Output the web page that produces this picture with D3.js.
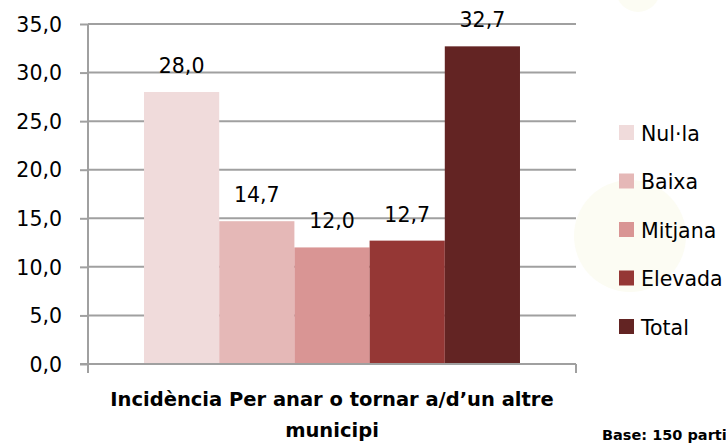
<!DOCTYPE html>
<html lang="ca">
<head>
<meta charset="UTF-8">
<title>Incidència</title>
<script src="https://d3js.org/d3.v7.min.js"></script>
<style>
    body { margin: 0; background: #fff; }
    svg { display: block; }
    .tick-label, .value-label { font-family: "DejaVu Sans", sans-serif; font-size: 20.5px; fill: #000; }
    .legend-label { font-family: "DejaVu Sans", sans-serif; font-size: 20.5px; fill: #000; }
    .axis-title { font-family: "DejaVu Sans", sans-serif; font-weight: bold; font-size: 19.5px; fill: #000; }
    .base-note { font-family: "DejaVu Sans", sans-serif; font-weight: bold; font-size: 14.5px; fill: #000; }
</style>
</head>
<body>
<svg id="chart"></svg>
<script>
// data
const categories = ["Incidència Per anar o tornar a/d’un altre municipi"];
const seriesNames = ["Nul·la", "Baixa", "Mitjana", "Elevada", "Total"];
const seriesValues = [28.0, 14.7, 12.0, 12.7, 32.7];
const seriesColors = ["#F0DBDB", "#E5B8B7", "#D99594", "#953735", "#632423"];
const yTicks = [0, 5, 10, 15, 20, 25, 30, 35];
const titleLines = ["Incidència Per anar o tornar a/d’un altre", "municipi"];
const baseNote = "Base: 150 parti";

const W = 726, H = 443;
const plot = { left: 88, right: 576, top: 24, bottom: 364 };
const fmt = v => v.toFixed(1).replace(".", ",");

const svg = d3.select("#chart").attr("width", W).attr("height", H);

// faint background decoration
svg.append("circle").attr("cx", 630).attr("cy", 236).attr("r", 56).attr("fill", "#FCFCF3");
svg.append("circle").attr("cx", 638).attr("cy", -10).attr("r", 22).attr("fill", "#FCFCF3");

const x0 = d3.scaleBand().domain(categories).range([plot.left, plot.right]).paddingOuter(0.149).paddingInner(0);
const x1 = d3.scaleBand().domain(seriesNames).range([0, x0.bandwidth()]).padding(0);
const y = d3.scaleLinear().domain([0, 35]).range([plot.bottom, plot.top]);

// gridlines + left axis
const yAxis = svg.append("g")
    .attr("transform", `translate(${plot.left},0)`)
    .call(d3.axisLeft(y).tickValues(yTicks).tickSize(8).tickFormat(fmt));
yAxis.select(".domain").remove();
yAxis.selectAll(".tick line").attr("stroke", "#A0A0A0").attr("stroke-width", 2);
yAxis.selectAll(".tick text").attr("class", "tick-label").attr("x", -26).attr("dy", "0.35em");

svg.append("g").selectAll("line")
    .data(yTicks.filter(d => d > 0))
    .join("line")
    .attr("x1", plot.left).attr("x2", plot.right)
    .attr("y1", d => y(d)).attr("y2", d => y(d))
    .attr("stroke", "#A0A0A0").attr("stroke-width", 2);

// bars
const g = svg.append("g").attr("transform", `translate(${x0(categories[0])},0)`);
g.selectAll("rect")
    .data(seriesNames.map((n, i) => ({ name: n, value: seriesValues[i], color: seriesColors[i] })))
    .join("rect")
    .attr("x", d => x1(d.name))
    .attr("y", d => y(d.value))
    .attr("width", x1.bandwidth())
    .attr("height", d => y(0) - y(d.value))
    .attr("fill", d => d.color);

g.selectAll("text")
    .data(seriesNames.map((n, i) => ({ name: n, value: seriesValues[i] })))
    .join("text")
    .attr("class", "value-label")
    .attr("x", d => x1(d.name) + x1.bandwidth() / 2)
    .attr("y", d => y(d.value) - 19)
    .attr("text-anchor", "middle")
    .text(d => fmt(d.value));

// axis lines
const axisColor = "#A0A0A0";
svg.append("line").attr("x1", plot.left).attr("x2", plot.left)
    .attr("y1", plot.top).attr("y2", plot.bottom + 9)
    .attr("stroke", axisColor).attr("stroke-width", 2);
svg.append("line").attr("x1", plot.left - 8).attr("x2", plot.right)
    .attr("y1", plot.bottom).attr("y2", plot.bottom)
    .attr("stroke", axisColor).attr("stroke-width", 2);
svg.append("line").attr("x1", plot.right).attr("x2", plot.right)
    .attr("y1", plot.bottom).attr("y2", plot.bottom + 9)
    .attr("stroke", axisColor).attr("stroke-width", 2);

// category title
svg.append("text")
    .attr("class", "axis-title")
    .attr("text-anchor", "middle")
    .selectAll("tspan")
    .data(titleLines)
    .join("tspan")
    .attr("x", (plot.left + plot.right) / 2)
    .attr("y", (d, i) => 406 + i * 31)
    .text(d => d);

// legend
const legend = svg.append("g").selectAll("g")
    .data(seriesNames)
    .join("g")
    .attr("transform", (d, i) => `translate(619,${125 + i * 48.5})`);
legend.append("rect").attr("width", 15).attr("height", 15).attr("fill", (d, i) => seriesColors[i]);
legend.append("text").attr("class", "legend-label").attr("x", 22).attr("y", 15.5).text(d => d);

// base note, only the part visible in the source
svg.append("text").attr("class", "base-note").attr("x", 602).attr("y", 440).text(baseNote);
</script>
</body>
</html>
